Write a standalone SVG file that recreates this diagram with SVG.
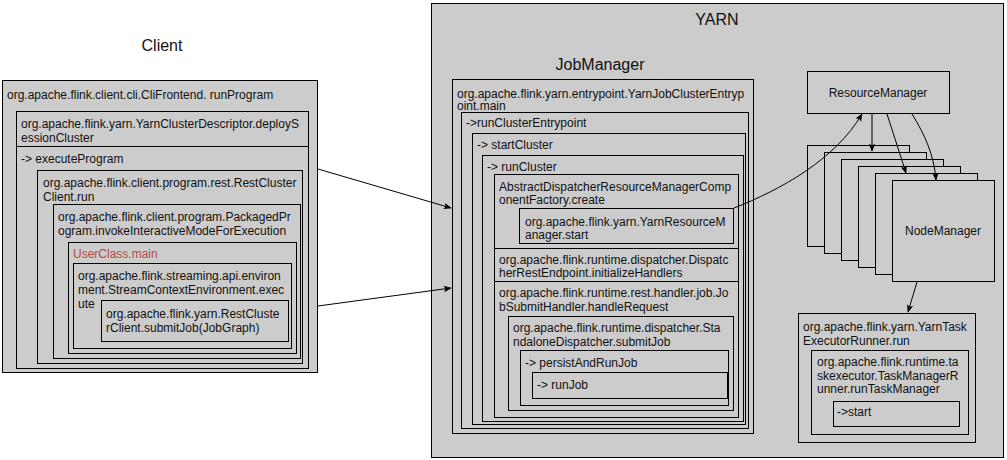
<svg xmlns="http://www.w3.org/2000/svg" width="1007" height="460" viewBox="0 0 1007 460">
<defs>
<style>
.b{fill:#cccccc;stroke:#000;stroke-width:1}
.t{font-family:"Liberation Sans",Arial,Helvetica,sans-serif;font-size:12px;fill:#111}
.h{font-family:"Liberation Sans",Arial,Helvetica,sans-serif;font-size:16px;fill:#111}
.red{fill:#b94a48}
.c{fill:none;stroke:#000;stroke-width:1}
</style>
<marker id="ah" viewBox="0 0 10 10" refX="9" refY="5" markerWidth="8" markerHeight="8" markerUnits="userSpaceOnUse" orient="auto">
<path d="M0,1 L10,5 L0,9 L2,5 Z" fill="#000"/>
</marker>
</defs>
<rect width="1007" height="460" fill="#fff"/>

<g id="client">
<text class="h" x="162" y="51" text-anchor="middle">Client</text>
<rect class="b" x="2.5" y="80.5" width="315" height="292"/>
<text class="t" x="7" y="99">org.apache.flink.client.cli.CliFrontend. runProgram</text>
</g>
<g id="deploySessionCluster">
<rect class="b" x="16.5" y="111.5" width="292" height="257"/>
<line class="c" x1="16.5" y1="146.5" x2="308.5" y2="146.5"/>
<text class="t" x="21" y="128">org.apache.flink.yarn.YarnClusterDescriptor.deployS</text>
<text class="t" x="21" y="141.5">essionCluster</text>
<text class="t" x="21" y="163">-&gt; executeProgram</text>
</g>
<g id="restClusterClientRun">
<rect class="b" x="37.5" y="170.5" width="265" height="193"/>
<text class="t" x="43" y="187">org.apache.flink.client.program.rest.RestCluster</text>
<text class="t" x="43" y="201">Client.run</text>
</g>
<g id="packagedProgram">
<rect class="b" x="53.5" y="204.5" width="247" height="154"/>
<text class="t" x="58" y="221">org.apache.flink.client.program.PackagedPr</text>
<text class="t" x="58" y="234.5">ogram.invokeInteractiveModeForExecution</text>
</g>
<g id="userClassMain">
<rect class="b" x="68.5" y="242.5" width="228" height="111"/>
<text class="t red" x="73" y="258">UserClass.main</text>
</g>
<g id="streamExecute">
<rect class="b" x="73.5" y="263.5" width="218" height="85"/>
<text class="t" x="78" y="280">org.apache.flink.streaming.api.environ</text>
<text class="t" x="78" y="294">ment.StreamContextEnvironment.exec</text>
<text class="t" x="78" y="308">ute</text>
</g>
<g id="submitJob">
<rect class="b" x="101.5" y="300.5" width="187" height="41"/>
<text class="t" x="106" y="318">org.apache.flink.yarn.RestCluste</text>
<text class="t" x="106" y="332">rClient.submitJob(JobGraph)</text>
</g>

<g id="yarn">
<rect class="b" x="431.5" y="3.5" width="572" height="454"/>
<text class="h" x="717" y="25" text-anchor="middle">YARN</text>
<text class="h" x="600" y="70" text-anchor="middle">JobManager</text>
</g>
<g id="jobClusterEntrypoint">
<rect class="b" x="452.5" y="79.5" width="301" height="354"/>
<text class="t" x="457" y="97.5">org.apache.flink.yarn.entrypoint.YarnJobClusterEntryp</text>
<text class="t" x="457" y="110">oint.main</text>
</g>
<g id="runClusterEntrypoint">
<rect class="b" x="461.5" y="112.5" width="287" height="316"/>
<text class="t" x="466" y="127">-&gt;runClusterEntrypoint</text>
</g>
<g id="startCluster">
<rect class="b" x="472.5" y="133.5" width="273" height="291"/>
<text class="t" x="477" y="149">-&gt; startCluster</text>
</g>
<g id="runCluster">
<rect class="b" x="482.5" y="155.5" width="261" height="266"/>
<text class="t" x="487" y="171">-&gt; runCluster</text>
</g>
<g id="componentFactory">
<rect class="b" x="494.5" y="174.5" width="244" height="74"/>
<text class="t" x="499" y="191">AbstractDispatcherResourceManagerComp</text>
<text class="t" x="499" y="203.5">onentFactory.create</text>
</g>
<g id="yarnResourceManagerStart">
<rect class="b" x="519.5" y="208.5" width="214" height="35"/>
<text class="t" x="525" y="226">org.apache.flink.yarn.YarnResourceM</text>
<text class="t" x="525" y="239">anager.start</text>
</g>
<g id="initializeHandlers">
<rect class="b" x="494.5" y="248.5" width="244" height="33"/>
<text class="t" x="499" y="264">org.apache.flink.runtime.dispatcher.Dispatc</text>
<text class="t" x="499" y="277">herRestEndpoint.initializeHandlers</text>
</g>
<g id="jobSubmitHandler">
<rect class="b" x="494.5" y="281.5" width="244" height="136"/>
<text class="t" x="499" y="297">org.apache.flink.runtime.rest.handler.job.Jo</text>
<text class="t" x="499" y="311">bSubmitHandler.handleRequest</text>
</g>
<g id="standaloneDispatcher">
<rect class="b" x="508.5" y="316.5" width="225" height="94"/>
<text class="t" x="513" y="332">org.apache.flink.runtime.dispatcher.Sta</text>
<text class="t" x="513" y="346">ndaloneDispatcher.submitJob</text>
</g>
<g id="persistAndRunJob">
<rect class="b" x="520.5" y="350.5" width="208" height="55"/>
<text class="t" x="525" y="367">-&gt; persistAndRunJob</text>
</g>
<g id="runJob">
<rect class="b" x="532.5" y="372.5" width="195" height="26"/>
<text class="t" x="537" y="389">-&gt; runJob</text>
</g>

<g id="resourceManager">
<rect class="b" x="807.5" y="71.5" width="142" height="42"/>
<text class="t" x="878" y="97" text-anchor="middle">ResourceManager</text>
</g>
<g id="nodeManagers">
<rect class="b" x="807.5" y="145.5" width="102" height="101"/>
<rect class="b" x="824.5" y="152.5" width="102" height="101"/>
<rect class="b" x="841.5" y="159.5" width="102" height="101"/>
<rect class="b" x="858.5" y="166.5" width="102" height="101"/>
<rect class="b" x="875.5" y="173.5" width="102" height="101"/>
<rect class="b" x="892.5" y="180.5" width="102" height="101"/>
<text class="t" x="943" y="235" text-anchor="middle">NodeManager</text>
</g>
<g id="taskExecutorRunner">
<rect class="b" x="798.5" y="313.5" width="177" height="129"/>
<text class="t" x="803" y="331">org.apache.flink.yarn.YarnTask</text>
<text class="t" x="803" y="345">ExecutorRunner.run</text>
</g>
<g id="taskManagerRunner">
<rect class="b" x="811.5" y="350.5" width="157" height="84"/>
<text class="t" x="817" y="366">org.apache.flink.runtime.ta</text>
<text class="t" x="817" y="379.5">skexecutor.TaskManagerR</text>
<text class="t" x="817" y="393">unner.runTaskManager</text>
</g>
<g id="taskStart">
<rect class="b" x="833.5" y="401.5" width="126" height="25"/>
<text class="t" x="837" y="416">-&gt;start</text>
</g>

<g id="connectors">
<path class="c" d="M318,169 L451,208" marker-end="url(#ah)"/>
<path class="c" d="M318,306 L451,288" marker-end="url(#ah)"/>
<path class="c" d="M734,208 C780,190 835,160 862,114" marker-end="url(#ah)"/>
<path class="c" d="M872,114 L872,151" marker-end="url(#ah)"/>
<path class="c" d="M887,114 L906,173" marker-end="url(#ah)"/>
<path class="c" d="M912,114 C925,135 934,155 936,180" marker-end="url(#ah)"/>
<path class="c" d="M917,282 L908,312" marker-end="url(#ah)"/>
</g>
</svg>
